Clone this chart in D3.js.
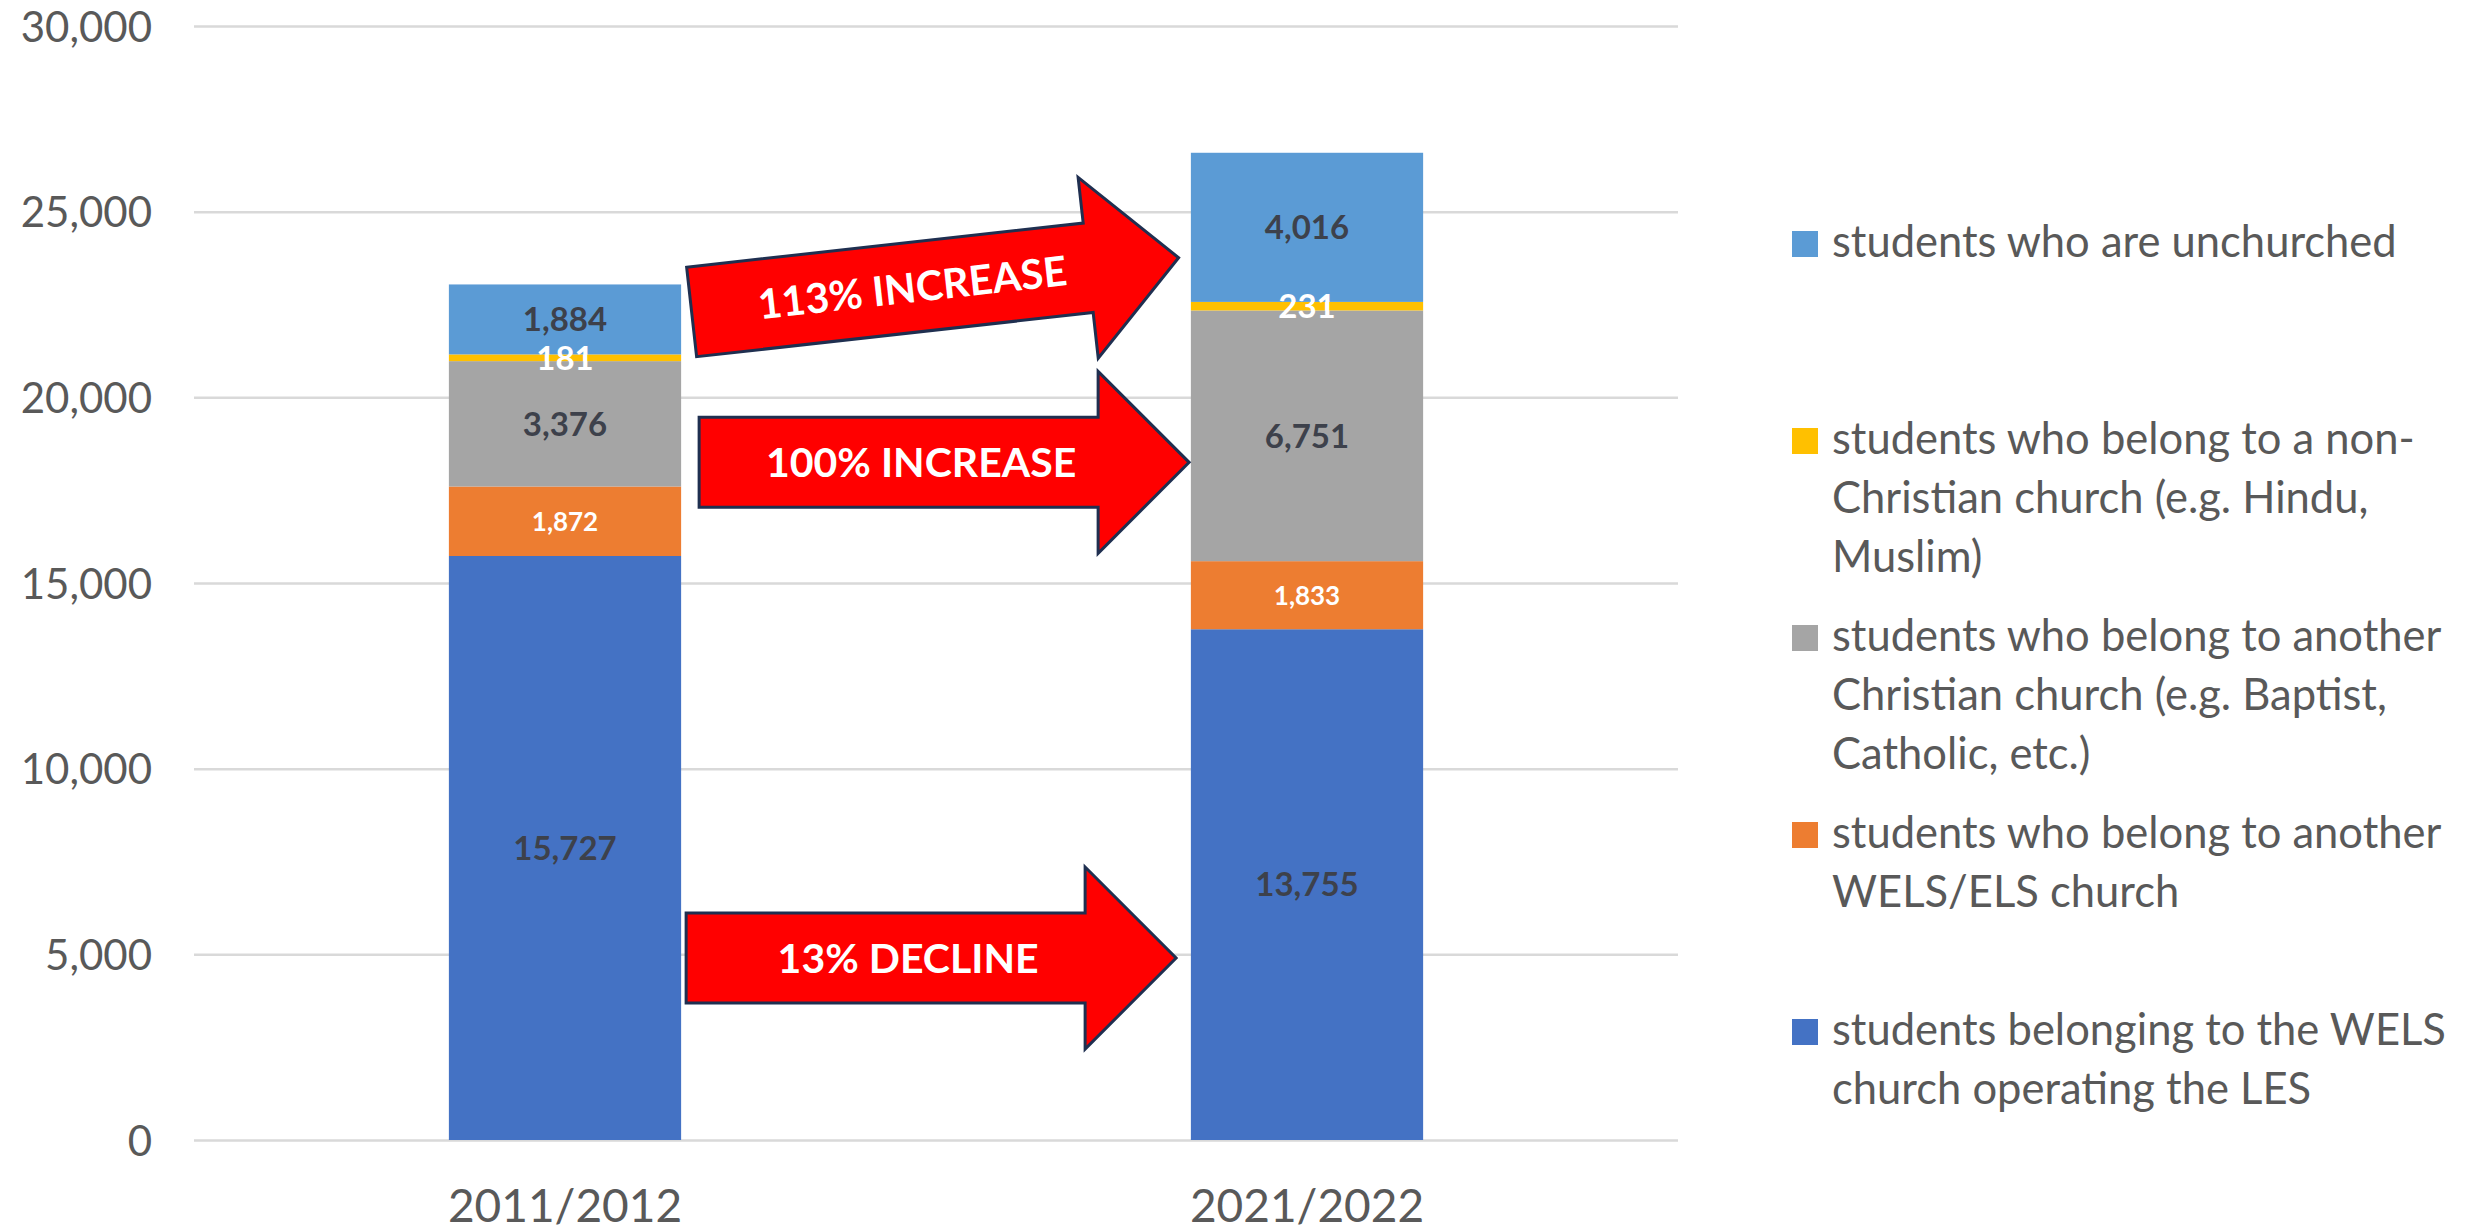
<!DOCTYPE html>
<html>
<head>
<meta charset="utf-8">
<script src="https://cdn.jsdelivr.net/npm/d3@7"></script>
<style>
  body { margin: 0; background: #fff; }
  text { font-family: Lato, "Open Sans", sans-serif; }
</style>
</head>
<body>
<div id="chart"></div>
<script>
// data
const years = ["2011/2012", "2021/2022"]
const welsValues = [15727, 13755]
const otherWelsValues = [1872, 1833]
const otherChristianValues = [3376, 6751]
const nonChristianValues = [181, 231]
const unchurchedValues = [1884, 4016]
const yTicks = [0, 5000, 10000, 15000, 20000, 25000, 30000]

const seriesNames = ["wels", "otherWels", "otherChristian", "nonChristian", "unchurched"]
const seriesValues = [welsValues, otherWelsValues, otherChristianValues, nonChristianValues, unchurchedValues]
const seriesColors = ["#4472C4", "#ED7D31", "#A5A5A5", "#FFC000", "#5B9BD5"]

// legend is listed top to bottom (reverse of stack)
const legendKeys = ["unchurched", "nonChristian", "otherChristian", "otherWels", "wels"]
const legendLabels = [
    ["students who are unchurched"],
    ["students who belong to a non-", "Christian church (e.g. Hindu,", "Muslim)"],
    ["students who belong to another", "Christian church (e.g. Baptist,", "Catholic, etc.)"],
    ["students who belong to another", "WELS/ELS church"],
    ["students belonging to the WELS", "church operating the LES"]
]

const arrowTexts = ["113% INCREASE", "100% INCREASE", "13% DECLINE"]
const arrowLevels = [22300, 18250, 4900]

const W = 2483, H = 1231
let margin = { top: 26, right: 805, bottom: 91, left: 194 }
let width = W - margin.left - margin.right
let height = H - margin.top - margin.bottom

const svg = d3.select("#chart")
    .append("svg")
    .attr("width", W)
    .attr("height", H)

const g = svg.append("g")
    .attr("transform", "translate(" + margin.left + "," + margin.top + ")")

let x = d3.scaleBand()
    .domain(years)
    .range([0, width])
    .paddingInner(0.687)
    .paddingOuter(0.3435)

let y = d3.scaleLinear()
    .domain([0, 30000])
    .range([height, 0])

// gridlines + y labels
let yAxis = d3.axisLeft(y)
    .tickValues(yTicks)
    .tickSize(-width)
    .tickPadding(42)
    .tickFormat(d3.format(","))

const yG = g.append("g").call(yAxis)
yG.select(".domain").remove()
yG.selectAll(".tick line")
    .attr("stroke", "#D9D9D9")
    .attr("stroke-width", 2.5)
yG.selectAll(".tick text")
    .attr("font-size", 42)
    .attr("fill", "#595959")
    .attr("dy", "0.36em")

// x labels
let xAxis = d3.axisBottom(x).tickSize(0).tickPadding(49)
const xG = g.append("g")
    .attr("transform", "translate(0," + height + ")")
    .call(xAxis)
xG.select(".domain").remove()
xG.selectAll(".tick text")
    .attr("font-size", 46)
    .attr("fill", "#595959")

// stacked data
const rows = years.map((yr, i) => {
    const row = { year: yr }
    seriesNames.forEach((k, j) => { row[k] = seriesValues[j][i] })
    return row
})
const stacked = d3.stack().keys(seriesNames)(rows)

g.append("g")
    .selectAll("g")
    .data(stacked)
    .enter()
    .append("g")
    .attr("fill", (d, i) => seriesColors[i])
    .selectAll("rect")
    .data(d => d)
    .enter()
    .append("rect")
    .attr("x", d => x(d.data.year))
    .attr("width", x.bandwidth())
    .attr("y", d => y(d[1]))
    .attr("height", d => y(d[0]) - y(d[1]))

// value labels, drawn after all rects so thin segments stay readable
const whiteLabels = ["otherWels", "nonChristian"]
const labelG = g.append("g")
stacked.forEach(layer => {
    const key = layer.key
    labelG.append("g")
        .selectAll("text")
        .data(layer)
        .enter()
        .append("text")
        .attr("x", d => x(d.data.year) + x.bandwidth() / 2)
        .attr("y", d => y((d[0] + d[1]) / 2))
        .attr("dy", "0.36em")
        .attr("text-anchor", "middle")
        .attr("font-weight", 700)
        .attr("font-size", key == "otherWels" ? 26 : 33)
        .attr("fill", whiteLabels.includes(key) ? "#FFFFFF" : "#3D414B")
        .text(d => d3.format(",")(d[1] - d[0]))
})

// arrows (tail center in chart coords, pointing right)
const shaftLen = 399, shaftHalf = 45, headLen = 91, headHalf = 91
const arrowPts = [
    [0, -shaftHalf], [shaftLen, -shaftHalf], [shaftLen, -headHalf],
    [shaftLen + headLen, 0], [shaftLen, headHalf], [shaftLen, shaftHalf], [0, shaftHalf]
]
const arrowTail = [10.5, 18, 5]
const arrowAngle = [-6.35, 0, 0]

const arrowG = g.append("g")
arrowTexts.forEach((t, i) => {
    const ax = x(years[0]) + x.bandwidth() + arrowTail[i]
    const a = arrowG.append("g")
        .attr("transform", "translate(" + ax + "," + y(arrowLevels[i]) + ") rotate(" + arrowAngle[i] + ")")
    a.append("polygon")
        .attr("points", arrowPts.map(p => p.join(",")).join(" "))
        .attr("fill", "#FF0000")
        .attr("stroke", "#1F2F50")
        .attr("stroke-width", 3)
    a.append("text")
        .attr("x", 222)
        .attr("y", 0)
        .attr("dy", "0.36em")
        .attr("text-anchor", "middle")
        .attr("font-weight", 700)
        .attr("font-size", 41)
        .attr("fill", "#FFFFFF")
        .text(t)
})

// legend
const legend = svg.append("g")
legendKeys.forEach((k, i) => {
    const baseY = 257 + i * 197
    const color = seriesColors[seriesNames.indexOf(k)]
    legend.append("rect")
        .attr("x", 1792)
        .attr("y", baseY - 26)
        .attr("width", 26)
        .attr("height", 26)
        .attr("fill", color)
    legendLabels[i].forEach((line, j) => {
        legend.append("text")
            .attr("x", 1832)
            .attr("y", baseY + j * 59)
            .attr("font-size", 43.5)
            .attr("fill", "#595959")
            .text(line)
    })
})
</script>
</body>
</html>
